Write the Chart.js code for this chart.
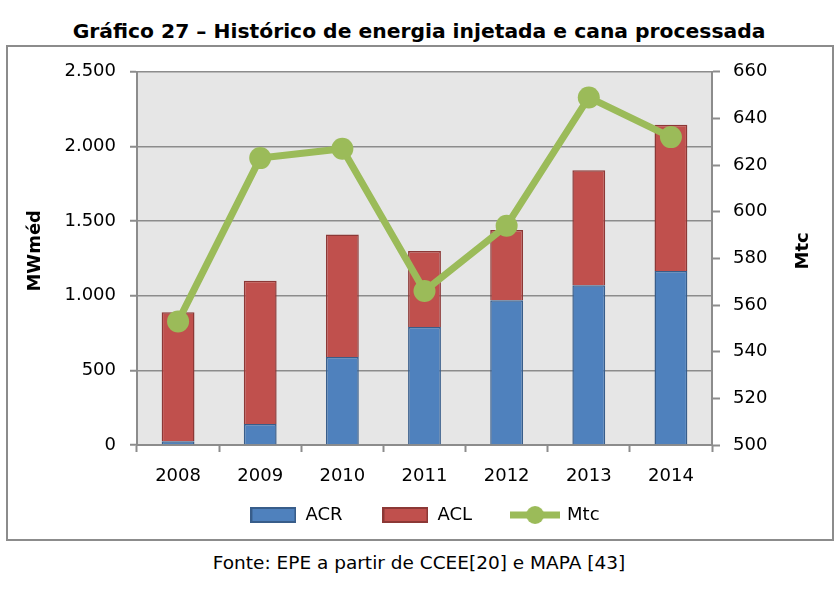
<!DOCTYPE html>
<html>
<head>
<meta charset="utf-8">
<script src="https://cdn.jsdelivr.net/npm/chart.js@4.4.1/dist/chart.umd.min.js"></script>
<style>
  body { margin: 0; background: #fff; width: 838px; height: 594px; position: relative; overflow: hidden; font-family: "DejaVu Sans", sans-serif; }
  #title { position: absolute; left: 0; width: 838px; top: 19px; text-align: center; font-weight: bold; font-size: 20.3px; color: #000; }
  #box { position: absolute; left: 6px; top: 45px; width: 824px; height: 492px; border: 2px solid #8c8c8c; }
  #footer { position: absolute; left: 0; width: 838px; top: 552px; text-align: center; font-size: 18.5px; color: #000; }
</style>
</head>
<body>
<div id="title">Gráfico 27 – Histórico de energia injetada e cana processada</div>
<div id="box"><canvas id="myChart"></canvas></div>
<div id="footer">Fonte: EPE a partir de CCEE[20] e MAPA [43]</div>
<script>
// values
const years = ["2008", "2009", "2010", "2011", "2012", "2013", "2014"];
const acr = [25, 140, 590, 790, 970, 1070, 1165];
const acl = [865, 960, 820, 510, 470, 770, 980];
const mtc = [553, 623, 627, 566, 594, 649, 632];

const leftTicks = [0, 500, 1000, 1500, 2000, 2500];
const rightTicks = [500, 520, 540, 560, 580, 600, 620, 640, 660];

const leftTitle = "MWméd";
const rightTitle = "Mtc";

const FONT = "DejaVu Sans";
const GRID = "#8c8c8c";

/* little canvases used as legend markers */
function boxMarker(fill, stroke) {
  const c = document.createElement("canvas");
  c.width = 46;
  c.height = 16;
  const g = c.getContext("2d");
  g.fillStyle = fill;
  g.fillRect(0, 0, 46, 16);
  g.strokeStyle = stroke;
  g.lineWidth = 2;
  g.strokeRect(1, 1, 44, 14);
  return c;
}

function lineMarker(color) {
  const c = document.createElement("canvas");
  c.width = 50;
  c.height = 20;
  const g = c.getContext("2d");
  g.strokeStyle = color;
  g.lineWidth = 7;
  g.beginPath();
  g.moveTo(0, 10);
  g.lineTo(50, 10);
  g.stroke();
  g.fillStyle = color;
  g.beginPath();
  g.arc(25, 10, 9, 0, Math.PI * 2);
  g.fill();
  return c;
}

const markers = [
  boxMarker("#4f81bd", "#385d8a"),
  boxMarker("#c0504d", "#8c3836"),
  lineMarker("#9bbb59"),
];

function dots(v) {
  return String(v).replace(/\B(?=(\d{3})+(?!\d))/g, ".");
}

/* gray plot background */
const plotBg = {
  id: "plotBg",
  beforeDraw(chart) {
    const a = chart.chartArea;
    const ctx = chart.ctx;
    ctx.save();
    ctx.fillStyle = "#e6e6e6";
    ctx.fillRect(a.left, a.top, a.right - a.left, a.bottom - a.top);
    ctx.restore();
  },
};

/* legend: short box, wide gaps, sitting just under the year labels */
const legendPlace = {
  id: "legendPlace",
  beforeLayout(chart) {
    const lg = chart.legend;
    if (lg && !lg._short) {
      const fit = lg.fit;
      lg.fit = function () {
        fit.call(this);
        this.height = 50;
      };
      lg._short = true;
    }
  },
  afterLayout(chart) {
    const lg = chart.legend;
    lg.top = chart.chartArea.bottom + 21;
    lg.left += 5;
    lg.right += 5;
  },
};

/* both axis titles read bottom to top, as in the source */
const axisTitles = {
  id: "axisTitles",
  afterDraw(chart) {
    const ctx = chart.ctx;
    const yc = chart.chartArea.top + 179;
    ctx.save();
    ctx.fillStyle = "#000";
    ctx.font = "bold 18px '" + FONT + "'";
    ctx.textAlign = "center";
    ctx.textBaseline = "middle";
    [[27, leftTitle], [795, rightTitle]].forEach(([x, t]) => {
      ctx.save();
      ctx.translate(x, yc);
      ctx.rotate(-Math.PI / 2);
      ctx.fillText(t, 0, 0);
      ctx.restore();
    });
    ctx.restore();
  },
};

const ctx = document.getElementById("myChart");

new Chart(ctx, {
  type: "bar",
  data: {
    labels: years,
    datasets: [
      {
        label: "ACR",
        data: acr,
        backgroundColor: "#4f81bd",
        borderColor: "#385d8a",
        borderWidth: 1.5,
        yAxisID: "y",
        order: 1,
      },
      {
        label: "ACL",
        data: acl,
        backgroundColor: "#c0504d",
        borderColor: "#8c3836",
        borderWidth: 1.5,
        yAxisID: "y",
        order: 2,
      },
      {
        type: "line",
        label: "Mtc",
        data: mtc,
        borderColor: "#9bbb59",
        backgroundColor: "#9bbb59",
        borderWidth: 7,
        pointRadius: 11,
        pointBorderWidth: 0,
        tension: 0,
        yAxisID: "y1",
        order: 0,
      },
    ],
  },
  options: {
    responsive: true,
    maintainAspectRatio: false,
    animation: false,
    devicePixelRatio: 1,
    layout: { padding: { top: 23, left: 0, right: 0, bottom: 0 } },
    datasets: {
      bar: { categoryPercentage: 1, barPercentage: 0.4 },
    },
    plugins: {
      tooltip: { enabled: false },
      legend: {
        position: "bottom",
        sort: (a, b) => a.datasetIndex - b.datasetIndex,
        labels: {
          usePointStyle: true,
          pointStyleWidth: 46,
          boxHeight: 16,
          padding: 40,
          color: "#000",
          font: { family: FONT, size: 18 },
          generateLabels(chart) {
            return chart.data.datasets.map((d, i) => ({
              text: d.label,
              pointStyle: markers[i],
              fillStyle: "transparent",
              strokeStyle: "transparent",
              lineWidth: 0,
              hidden: false,
              datasetIndex: i,
              fontColor: "#000",
            }));
          },
        },
      },
    },
    scales: {
      x: {
        stacked: true,
        afterFit(s) { s.height = 44; },
        grid: {
          offset: true,
          drawOnChartArea: false,
          tickLength: 7,
          tickWidth: 2,
          tickColor: GRID,
        },
        border: { color: GRID, width: 2 },
        ticks: {
          padding: 14,
          color: "#000",
          font: { family: FONT, size: 18 },
          maxRotation: 0,
        },
      },
      y: {
        stacked: true,
        position: "left",
        min: 0,
        max: 2500,
        afterFit(s) { s.width = 129; },
        afterBuildTicks(s) { s.ticks = leftTicks.map((v) => ({ value: v })); },
        grid: {
          color: GRID,
          lineWidth: 1.5,
          tickLength: 7,
          tickWidth: 2,
          tickColor: GRID,
        },
        border: { color: GRID, width: 2 },
        ticks: {
          padding: 14,
          color: "#000",
          font: { family: FONT, size: 18 },
          callback: (v) => dots(v),
        },
      },
      y1: {
        position: "right",
        min: 500,
        max: 660,
        afterFit(s) { s.width = 120; },
        afterBuildTicks(s) { s.ticks = rightTicks.map((v) => ({ value: v })); },
        grid: {
          drawOnChartArea: false,
          tickLength: 8,
          tickWidth: 2,
          tickColor: GRID,
        },
        border: { color: GRID, width: 2 },
        ticks: {
          padding: 13,
          color: "#000",
          font: { family: FONT, size: 18 },
        },
      },
    },
  },
  plugins: [plotBg, legendPlace, axisTitles],
});
</script>
</body>
</html>
